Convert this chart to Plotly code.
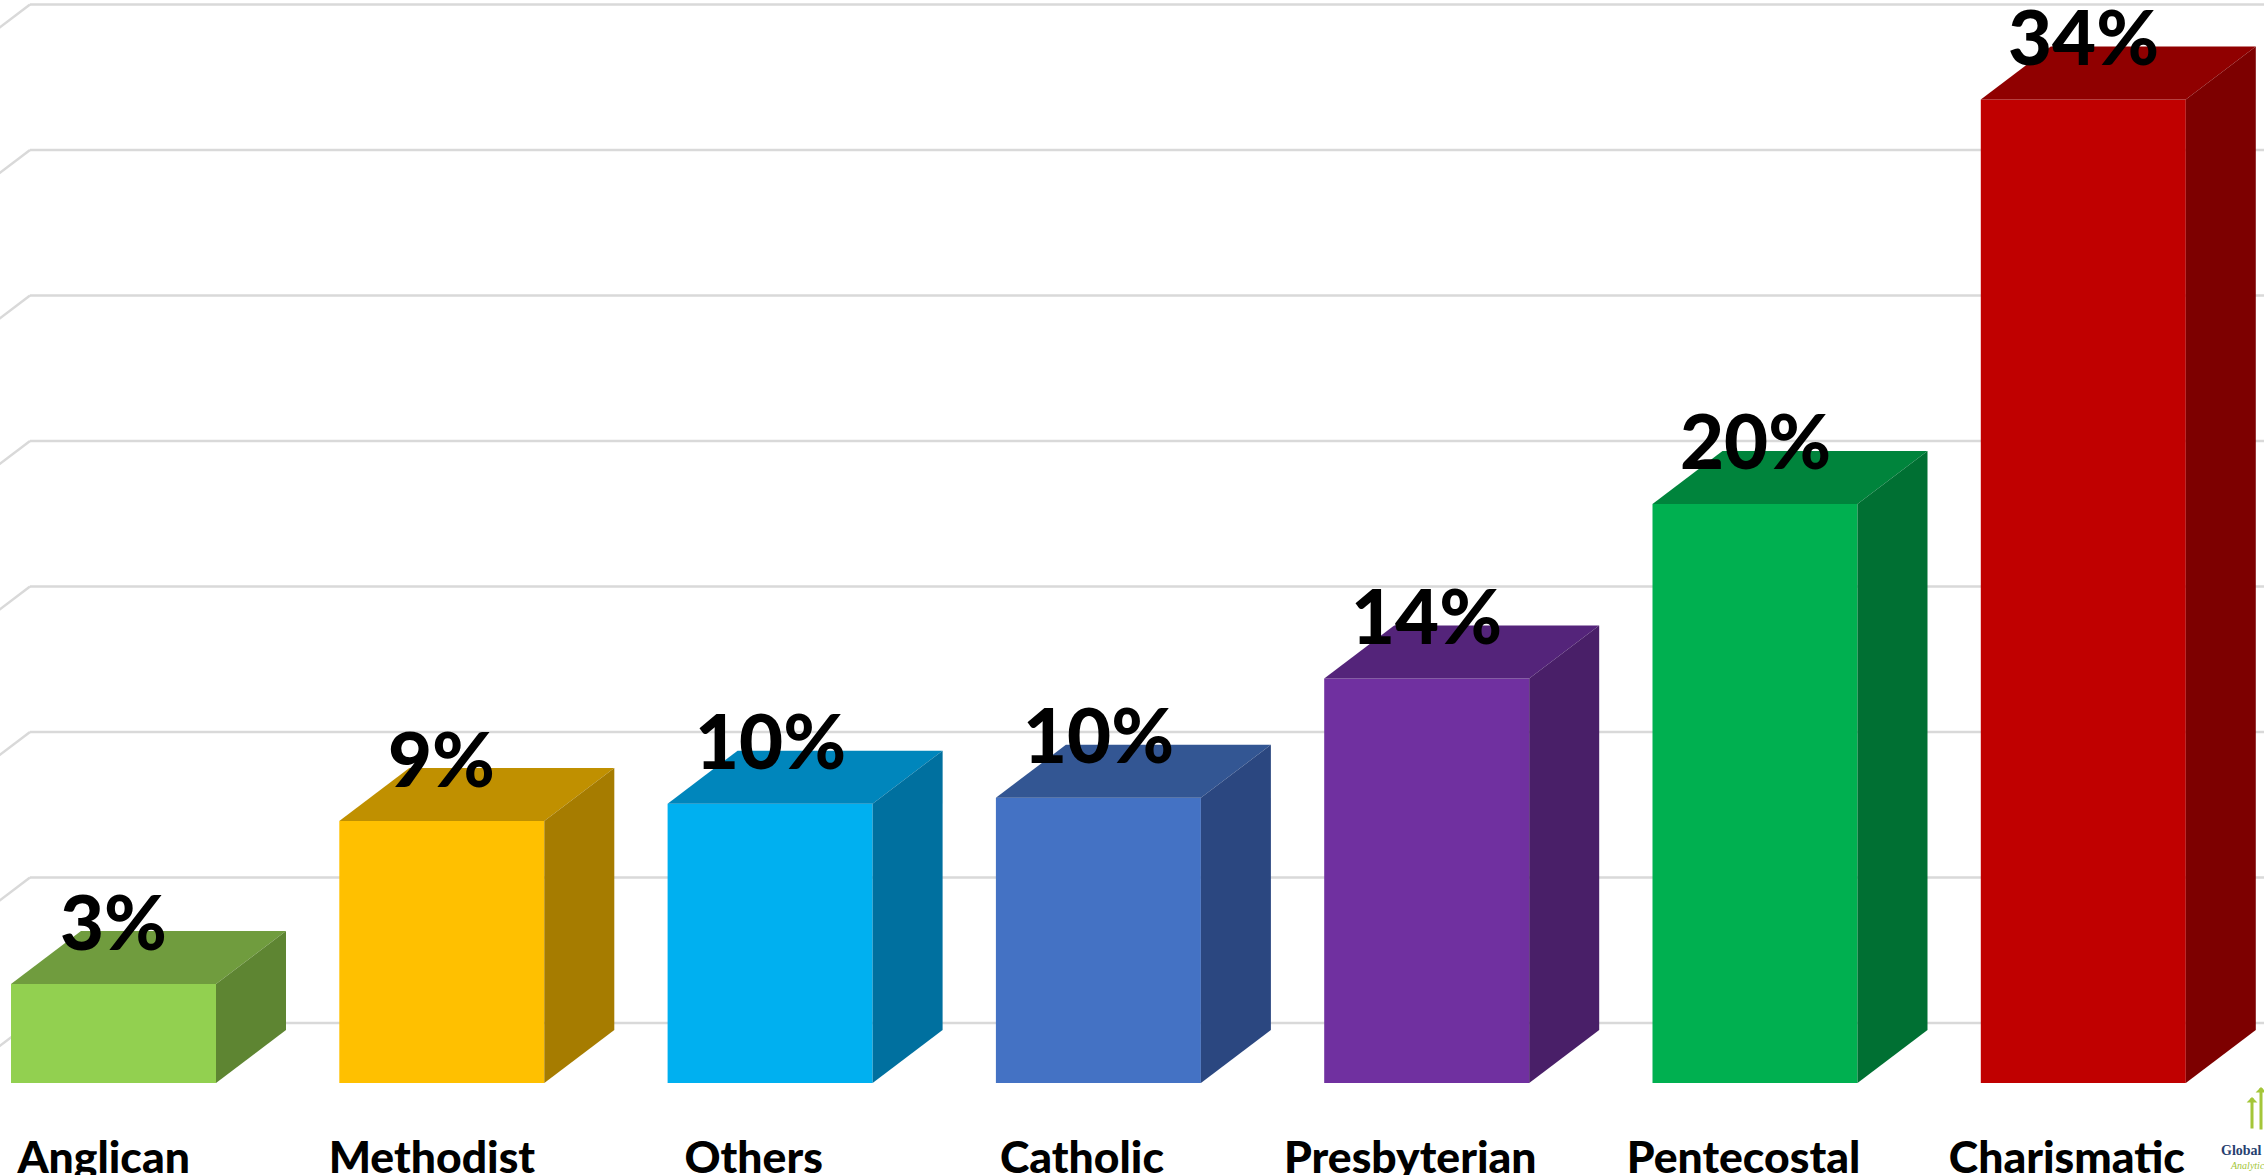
import plotly.graph_objects as go

categories = ["Anglican", "Methodist", "Others", "Catholic", "Presbyterian", "Pentecostal", "Charismatic"]
values = [3.4, 9.0, 9.6, 9.8, 13.9, 19.9, 33.8]
front_colors = ["#92D050", "#FFC000", "#00B0F0", "#4472C4", "#7030A0", "#00B050", "#C00000"]
top_colors = ["#709C3E", "#C09000", "#0086BC", "#335693", "#54247A", "#00843C", "#900000"]
side_colors = ["#5E8532", "#A67C00", "#00709F", "#2B4780", "#491F68", "#007033", "#7D0000"]
grid_values = [0, 5, 10, 15, 20, 25, 30, 35]
label_shift = [-0.03, -0.03, -0.05, -0.05, -0.05, -0.035, -0.05]

W, H = 2264, 1175
PLOT_BOTTOM = 1083
PX_PER_X = 328.3
PX_PER_Y = 29.1
BAR_W = 205 / PX_PER_X
DX = 70 / PX_PER_X
DY = 53 / PX_PER_Y
GRID_DX = 79 / PX_PER_X
GRID_DY = 60 / PX_PER_Y
x_pos = list(range(len(categories)))
x_min = -113.5 / PX_PER_X
x_max = x_min + W / PX_PER_X
y_max = PLOT_BOTTOM / PX_PER_Y

fig = go.Figure()
fig.add_trace(go.Bar(x=x_pos, y=values, width=BAR_W, marker=dict(color=front_colors, line_width=0),
                     showlegend=False, hoverinfo="skip"))

for x, v, tc, sc in zip(x_pos, values, top_colors, side_colors):
    l, r = x - BAR_W / 2, x + BAR_W / 2
    fig.add_trace(go.Scatter(x=[l, r, r + DX, l + DX, l], y=[v, v, v + DY, v + DY, v],
                             fill="toself", fillcolor=tc, mode="lines", line=dict(width=0, color=tc),
                             showlegend=False, hoverinfo="skip"))
    fig.add_trace(go.Scatter(x=[r, r + DX, r + DX, r, r], y=[0, DY, v + DY, v, 0],
                             fill="toself", fillcolor=sc, mode="lines", line=dict(width=0, color=sc),
                             showlegend=False, hoverinfo="skip"))

shapes = []
for g in grid_values:
    back_x = x_min + 30 / PX_PER_X
    shapes.append(dict(type="line", xref="x", yref="y", layer="below",
                       x0=back_x - GRID_DX, y0=g, x1=back_x, y1=g + GRID_DY,
                       line=dict(color="#D9D9D9", width=2.5)))
    shapes.append(dict(type="line", xref="x", yref="y", layer="below",
                       x0=back_x, y0=g + GRID_DY, x1=x_max, y1=g + GRID_DY,
                       line=dict(color="#D9D9D9", width=2.5)))

annotations = []
for x, v in zip(x_pos, values):
    annotations.append(dict(x=x, y=v, xref="x", yref="y", text=f"{v:.0f}%", showarrow=False,
                            xanchor="center", yanchor="middle", yshift=64,
                            font=dict(family="Lato", size=76, color="#000000", weight=900)))


def py(p):
    return (PLOT_BOTTOM - p) / PLOT_BOTTOM


annotations += [
    dict(x=2219 / W, y=py(1150), xref="paper", yref="paper", text="<b>Global</b>", showarrow=False,
         xanchor="left", yanchor="middle", font=dict(family="Liberation Serif", size=14, color="#27406F")),
    dict(x=2228 / W, y=py(1165), xref="paper", yref="paper", text="<i>Analytics</i>", showarrow=False,
         xanchor="left", yanchor="middle", font=dict(family="Liberation Serif", size=10, color="#A4C639")),
    dict(x=2252 / W, y=py(1097), xref="paper", yref="paper", ax=0, ay=33, text="", showarrow=True,
         arrowhead=1, arrowsize=0.6, arrowwidth=3, arrowcolor="#A4C639"),
    dict(x=2261 / W, y=py(1087), xref="paper", yref="paper", ax=0, ay=44, text="", showarrow=True,
         arrowhead=1, arrowsize=0.6, arrowwidth=3, arrowcolor="#A4C639"),
]

fig.update_layout(
    width=W, height=H, autosize=False,
    margin=dict(l=0, r=0, t=0, b=H - PLOT_BOTTOM, pad=0),
    paper_bgcolor="#FFFFFF", plot_bgcolor="#FFFFFF",
    shapes=shapes, annotations=annotations, showlegend=False,
    xaxis=dict(range=[x_min, x_max], tickmode="array", automargin=False,
               tickvals=[x + s for x, s in zip(x_pos, label_shift)],
               ticktext=categories,
               tickfont=dict(family="Lato", size=44.5, color="#000000", weight=900),
               ticks="", showgrid=False, zeroline=False, showline=False, ticklabelstandoff=44),
    yaxis=dict(range=[0, y_max], visible=False, showgrid=False, zeroline=False, automargin=False),
)

fig.write_html("out.html", config={"displayModeBar": False, "responsive": False},
               post_script="document.body.style.margin='0';document.body.style.overflow='hidden';")
